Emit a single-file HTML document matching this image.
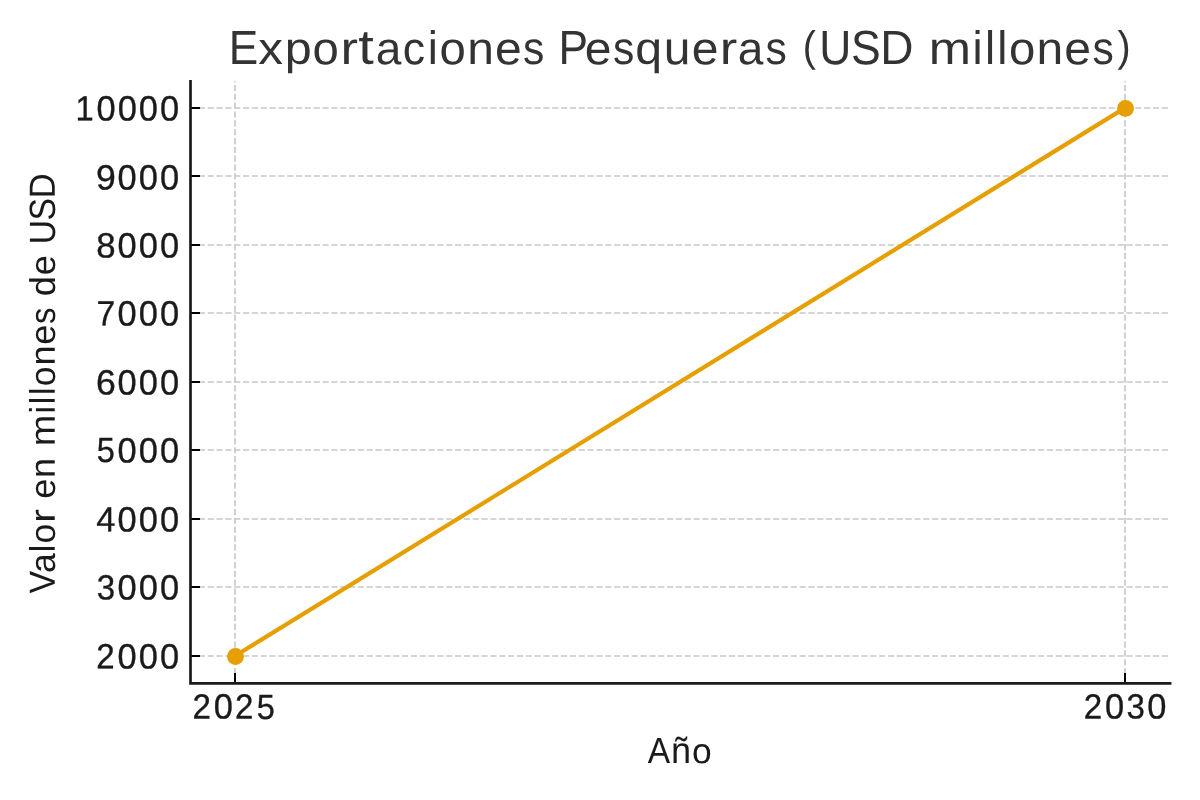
<!DOCTYPE html>
<html><head><meta charset="utf-8"><title>Exportaciones Pesqueras</title><style>
html,body{margin:0;padding:0;background:#fff;width:1200px;height:800px;overflow:hidden}
svg{display:block;will-change:transform}
text{font-family:"Liberation Sans",sans-serif;text-rendering:geometricPrecision}
</style></head><body>
<svg width="1200" height="800" viewBox="0 0 1200 800">
<rect width="1200" height="800" fill="#fff"/>
<g stroke="#c8c8c8" stroke-width="1.67" stroke-dasharray="6.17 2.664"><line x1="190" y1="656" x2="1170" y2="656"/><line x1="190" y1="587" x2="1170" y2="587"/><line x1="190" y1="519" x2="1170" y2="519"/><line x1="190" y1="450" x2="1170" y2="450"/><line x1="190" y1="382" x2="1170" y2="382"/><line x1="190" y1="313" x2="1170" y2="313"/><line x1="190" y1="245" x2="1170" y2="245"/><line x1="190" y1="176" x2="1170" y2="176"/><line x1="190" y1="108" x2="1170" y2="108"/><line x1="235.0" y1="683" x2="235.0" y2="81"/><line x1="1125.0" y1="683" x2="1125.0" y2="81"/></g>
<g stroke="#000" stroke-width="2.0"><line x1="190.5" y1="656" x2="200.00" y2="656"/><line x1="190.5" y1="587" x2="200.00" y2="587"/><line x1="190.5" y1="519" x2="200.00" y2="519"/><line x1="190.5" y1="450" x2="200.00" y2="450"/><line x1="190.5" y1="382" x2="200.00" y2="382"/><line x1="190.5" y1="313" x2="200.00" y2="313"/><line x1="190.5" y1="245" x2="200.00" y2="245"/><line x1="190.5" y1="176" x2="200.00" y2="176"/><line x1="190.5" y1="108" x2="200.00" y2="108"/><line x1="235.0" y1="683.4" x2="235.0" y2="673.00"/><line x1="1125.0" y1="683.4" x2="1125.0" y2="673.00"/></g>
<line x1="235.0" y1="656.0" x2="1125.0" y2="107.9" stroke="#E69F00" stroke-width="4.17"/>
<circle cx="235.5" cy="656.5" r="8.45" fill="#E69F00"/><circle cx="1125.5" cy="108.4" r="8.45" fill="#E69F00"/>
<path d="M190.5,80.0 L190.5,683.4 L1171.4,683.4" fill="none" stroke="#1a1a1a" stroke-width="2.7"/>
<g><text transform="translate(228.63,64.05) rotate(0.03) scale(0.9293,1.0101)" font-size="47.50" fill="#333333">E</text><text transform="translate(258.23,64.05) rotate(0.03) scale(1.0388,0.9567)" font-size="47.50" fill="#333333">x</text><text transform="translate(284.75,63.79) rotate(0.03) scale(1.0188,0.9527)" font-size="47.50" fill="#333333">p</text><text transform="translate(312.53,64.22) rotate(0.03) scale(0.9955,0.9687)" font-size="47.50" fill="#333333">o</text><text transform="translate(340.38,64.05) rotate(0.03) scale(1.1063,0.9620)" font-size="47.50" fill="#333333">r</text><text transform="translate(358.37,63.67) rotate(0.03) scale(1.1764,1.0230)" font-size="47.50" fill="#333333">t</text><text transform="translate(375.72,64.22) rotate(0.03) scale(0.9687,0.9687)" font-size="47.50" fill="#333333">a</text><text transform="translate(402.82,64.22) rotate(0.03) scale(0.9396,0.9687)" font-size="47.50" fill="#333333">c</text><text transform="translate(427.86,64.05) rotate(0.03) scale(0.9572,0.9887)" font-size="47.50" fill="#333333">i</text><text transform="translate(439.54,64.22) rotate(0.03) scale(0.9955,0.9687)" font-size="47.50" fill="#333333">o</text><text transform="translate(467.14,64.05) rotate(0.03) scale(1.0096,0.9620)" font-size="47.50" fill="#333333">n</text><text transform="translate(494.89,64.22) rotate(0.03) scale(1.0115,0.9687)" font-size="47.50" fill="#333333">e</text><text transform="translate(523.07,64.22) rotate(0.03) scale(0.8976,0.9713)" font-size="47.50" fill="#333333">s</text><text transform="translate(558.62,64.05) rotate(0.03) scale(0.9293,1.0101)" font-size="47.50" fill="#333333">P</text><text transform="translate(584.81,64.22) rotate(0.03) scale(1.0115,0.9687)" font-size="47.50" fill="#333333">e</text><text transform="translate(612.98,64.22) rotate(0.03) scale(0.8976,0.9713)" font-size="47.50" fill="#333333">s</text><text transform="translate(635.36,63.80) rotate(0.03) scale(1.0167,0.9521)" font-size="47.50" fill="#333333">q</text><text transform="translate(663.83,64.21) rotate(0.03) scale(1.0096,0.9863)" font-size="47.50" fill="#333333">u</text><text transform="translate(691.77,64.22) rotate(0.03) scale(1.0115,0.9687)" font-size="47.50" fill="#333333">e</text><text transform="translate(719.83,64.05) rotate(0.03) scale(1.1063,0.9620)" font-size="47.50" fill="#333333">r</text><text transform="translate(737.73,64.22) rotate(0.03) scale(0.9687,0.9687)" font-size="47.50" fill="#333333">a</text><text transform="translate(765.49,64.22) rotate(0.03) scale(0.8976,0.9713)" font-size="47.50" fill="#333333">s</text><text transform="translate(802.72,61.09) rotate(0.03) scale(0.8293,0.9015)" font-size="47.50" fill="#333333">(</text><text transform="translate(819.19,64.22) rotate(0.03) scale(0.9341,1.0153)" font-size="47.50" fill="#333333">U</text><text transform="translate(851.00,64.22) rotate(0.03) scale(0.9369,1.0184)" font-size="47.50" fill="#333333">S</text><text transform="translate(880.31,64.05) rotate(0.03) scale(0.9688,1.0101)" font-size="47.50" fill="#333333">D</text><text transform="translate(928.79,64.05) rotate(0.03) scale(1.0669,0.9620)" font-size="47.50" fill="#333333">m</text><text transform="translate(972.59,64.05) rotate(0.03) scale(0.9572,0.9887)" font-size="47.50" fill="#333333">i</text><text transform="translate(984.93,64.05) rotate(0.03) scale(0.9572,0.9887)" font-size="47.50" fill="#333333">l</text><text transform="translate(997.29,64.05) rotate(0.03) scale(0.9572,0.9887)" font-size="47.50" fill="#333333">l</text><text transform="translate(1008.99,64.22) rotate(0.03) scale(0.9955,0.9687)" font-size="47.50" fill="#333333">o</text><text transform="translate(1036.59,64.05) rotate(0.03) scale(1.0096,0.9620)" font-size="47.50" fill="#333333">n</text><text transform="translate(1064.33,64.22) rotate(0.03) scale(1.0115,0.9687)" font-size="47.50" fill="#333333">e</text><text transform="translate(1092.51,64.22) rotate(0.03) scale(0.8976,0.9713)" font-size="47.50" fill="#333333">s</text><text transform="translate(1117.55,61.09) rotate(0.03) scale(0.8293,0.9015)" font-size="47.50" fill="#333333">)</text></g>
<text transform="translate(96.25,668.28) rotate(0.03) scale(0.9456,0.9979)" font-size="35.00" fill="#1a1a1a" stroke="#1a1a1a" stroke-width="0.35" vector-effect="non-scaling-stroke">2</text><text transform="translate(117.53,668.40) rotate(0.03) scale(0.9829,1.0032)" font-size="35.00" fill="#1a1a1a" stroke="#1a1a1a" stroke-width="0.35" vector-effect="non-scaling-stroke">0</text><text transform="translate(138.74,668.40) rotate(0.03) scale(0.9829,1.0032)" font-size="35.00" fill="#1a1a1a" stroke="#1a1a1a" stroke-width="0.35" vector-effect="non-scaling-stroke">0</text><text transform="translate(159.94,668.40) rotate(0.03) scale(0.9829,1.0032)" font-size="35.00" fill="#1a1a1a" stroke="#1a1a1a" stroke-width="0.35" vector-effect="non-scaling-stroke">0</text>
<text transform="translate(96.76,599.40) rotate(0.03) scale(0.9430,1.0032)" font-size="35.00" fill="#1a1a1a" stroke="#1a1a1a" stroke-width="0.35" vector-effect="non-scaling-stroke">3</text><text transform="translate(117.53,599.40) rotate(0.03) scale(0.9829,1.0032)" font-size="35.00" fill="#1a1a1a" stroke="#1a1a1a" stroke-width="0.35" vector-effect="non-scaling-stroke">0</text><text transform="translate(138.74,599.40) rotate(0.03) scale(0.9829,1.0032)" font-size="35.00" fill="#1a1a1a" stroke="#1a1a1a" stroke-width="0.35" vector-effect="non-scaling-stroke">0</text><text transform="translate(159.94,599.40) rotate(0.03) scale(0.9829,1.0032)" font-size="35.00" fill="#1a1a1a" stroke="#1a1a1a" stroke-width="0.35" vector-effect="non-scaling-stroke">0</text>
<text transform="translate(96.31,531.28) rotate(0.03) scale(0.9841,0.9945)" font-size="35.00" fill="#1a1a1a" stroke="#1a1a1a" stroke-width="0.35" vector-effect="non-scaling-stroke">4</text><text transform="translate(117.53,531.40) rotate(0.03) scale(0.9829,1.0032)" font-size="35.00" fill="#1a1a1a" stroke="#1a1a1a" stroke-width="0.35" vector-effect="non-scaling-stroke">0</text><text transform="translate(138.74,531.40) rotate(0.03) scale(0.9829,1.0032)" font-size="35.00" fill="#1a1a1a" stroke="#1a1a1a" stroke-width="0.35" vector-effect="non-scaling-stroke">0</text><text transform="translate(159.94,531.40) rotate(0.03) scale(0.9829,1.0032)" font-size="35.00" fill="#1a1a1a" stroke="#1a1a1a" stroke-width="0.35" vector-effect="non-scaling-stroke">0</text>
<text transform="translate(96.75,462.41) rotate(0.03) scale(0.9263,0.9999)" font-size="35.00" fill="#1a1a1a" stroke="#1a1a1a" stroke-width="0.35" vector-effect="non-scaling-stroke">5</text><text transform="translate(117.53,462.40) rotate(0.03) scale(0.9829,1.0032)" font-size="35.00" fill="#1a1a1a" stroke="#1a1a1a" stroke-width="0.35" vector-effect="non-scaling-stroke">0</text><text transform="translate(138.74,462.40) rotate(0.03) scale(0.9829,1.0032)" font-size="35.00" fill="#1a1a1a" stroke="#1a1a1a" stroke-width="0.35" vector-effect="non-scaling-stroke">0</text><text transform="translate(159.94,462.40) rotate(0.03) scale(0.9829,1.0032)" font-size="35.00" fill="#1a1a1a" stroke="#1a1a1a" stroke-width="0.35" vector-effect="non-scaling-stroke">0</text>
<text transform="translate(95.99,394.40) rotate(0.03) scale(1.0173,1.0032)" font-size="35.00" fill="#1a1a1a" stroke="#1a1a1a" stroke-width="0.35" vector-effect="non-scaling-stroke">6</text><text transform="translate(117.53,394.40) rotate(0.03) scale(0.9829,1.0032)" font-size="35.00" fill="#1a1a1a" stroke="#1a1a1a" stroke-width="0.35" vector-effect="non-scaling-stroke">0</text><text transform="translate(138.74,394.40) rotate(0.03) scale(0.9829,1.0032)" font-size="35.00" fill="#1a1a1a" stroke="#1a1a1a" stroke-width="0.35" vector-effect="non-scaling-stroke">0</text><text transform="translate(159.94,394.40) rotate(0.03) scale(0.9829,1.0032)" font-size="35.00" fill="#1a1a1a" stroke="#1a1a1a" stroke-width="0.35" vector-effect="non-scaling-stroke">0</text>
<text transform="translate(96.49,325.27) rotate(0.03) scale(0.9600,0.9945)" font-size="35.00" fill="#1a1a1a" stroke="#1a1a1a" stroke-width="0.35" vector-effect="non-scaling-stroke">7</text><text transform="translate(117.53,325.40) rotate(0.03) scale(0.9829,1.0032)" font-size="35.00" fill="#1a1a1a" stroke="#1a1a1a" stroke-width="0.35" vector-effect="non-scaling-stroke">0</text><text transform="translate(138.74,325.40) rotate(0.03) scale(0.9829,1.0032)" font-size="35.00" fill="#1a1a1a" stroke="#1a1a1a" stroke-width="0.35" vector-effect="non-scaling-stroke">0</text><text transform="translate(159.94,325.40) rotate(0.03) scale(0.9829,1.0032)" font-size="35.00" fill="#1a1a1a" stroke="#1a1a1a" stroke-width="0.35" vector-effect="non-scaling-stroke">0</text>
<text transform="translate(96.23,257.40) rotate(0.03) scale(0.9934,1.0032)" font-size="35.00" fill="#1a1a1a" stroke="#1a1a1a" stroke-width="0.35" vector-effect="non-scaling-stroke">8</text><text transform="translate(117.53,257.40) rotate(0.03) scale(0.9829,1.0032)" font-size="35.00" fill="#1a1a1a" stroke="#1a1a1a" stroke-width="0.35" vector-effect="non-scaling-stroke">0</text><text transform="translate(138.74,257.40) rotate(0.03) scale(0.9829,1.0032)" font-size="35.00" fill="#1a1a1a" stroke="#1a1a1a" stroke-width="0.35" vector-effect="non-scaling-stroke">0</text><text transform="translate(159.94,257.40) rotate(0.03) scale(0.9829,1.0032)" font-size="35.00" fill="#1a1a1a" stroke="#1a1a1a" stroke-width="0.35" vector-effect="non-scaling-stroke">0</text>
<text transform="translate(95.91,189.40) rotate(0.03) scale(1.0152,1.0032)" font-size="35.00" fill="#1a1a1a" stroke="#1a1a1a" stroke-width="0.35" vector-effect="non-scaling-stroke">9</text><text transform="translate(117.53,189.40) rotate(0.03) scale(0.9829,1.0032)" font-size="35.00" fill="#1a1a1a" stroke="#1a1a1a" stroke-width="0.35" vector-effect="non-scaling-stroke">0</text><text transform="translate(138.74,189.40) rotate(0.03) scale(0.9829,1.0032)" font-size="35.00" fill="#1a1a1a" stroke="#1a1a1a" stroke-width="0.35" vector-effect="non-scaling-stroke">0</text><text transform="translate(159.94,189.40) rotate(0.03) scale(0.9829,1.0032)" font-size="35.00" fill="#1a1a1a" stroke="#1a1a1a" stroke-width="0.35" vector-effect="non-scaling-stroke">0</text>
<text transform="translate(75.54,120.28) rotate(0.03) scale(0.9356,0.9945)" font-size="35.00" fill="#1a1a1a" stroke="#1a1a1a" stroke-width="0.35" vector-effect="non-scaling-stroke">1</text><text transform="translate(96.43,120.40) rotate(0.03) scale(0.9829,1.0032)" font-size="35.00" fill="#1a1a1a" stroke="#1a1a1a" stroke-width="0.35" vector-effect="non-scaling-stroke">0</text><text transform="translate(117.64,120.40) rotate(0.03) scale(0.9829,1.0032)" font-size="35.00" fill="#1a1a1a" stroke="#1a1a1a" stroke-width="0.35" vector-effect="non-scaling-stroke">0</text><text transform="translate(138.84,120.40) rotate(0.03) scale(0.9829,1.0032)" font-size="35.00" fill="#1a1a1a" stroke="#1a1a1a" stroke-width="0.35" vector-effect="non-scaling-stroke">0</text><text transform="translate(160.05,120.40) rotate(0.03) scale(0.9829,1.0032)" font-size="35.00" fill="#1a1a1a" stroke="#1a1a1a" stroke-width="0.35" vector-effect="non-scaling-stroke">0</text>
<text transform="translate(192.55,718.43) rotate(0.03) scale(0.9456,0.9979)" font-size="35.00" fill="#1a1a1a" stroke="#1a1a1a" stroke-width="0.35" vector-effect="non-scaling-stroke">2</text><text transform="translate(213.83,718.55) rotate(0.03) scale(0.9829,1.0032)" font-size="35.00" fill="#1a1a1a" stroke="#1a1a1a" stroke-width="0.35" vector-effect="non-scaling-stroke">0</text><text transform="translate(234.96,718.43) rotate(0.03) scale(0.9456,0.9979)" font-size="35.00" fill="#1a1a1a" stroke="#1a1a1a" stroke-width="0.35" vector-effect="non-scaling-stroke">2</text><text transform="translate(256.66,718.56) rotate(0.03) scale(0.9263,0.9999)" font-size="35.00" fill="#1a1a1a" stroke="#1a1a1a" stroke-width="0.35" vector-effect="non-scaling-stroke">5</text>
<text transform="translate(1083.65,718.43) rotate(0.03) scale(0.9456,0.9979)" font-size="35.00" fill="#1a1a1a" stroke="#1a1a1a" stroke-width="0.35" vector-effect="non-scaling-stroke">2</text><text transform="translate(1104.93,718.55) rotate(0.03) scale(0.9829,1.0032)" font-size="35.00" fill="#1a1a1a" stroke="#1a1a1a" stroke-width="0.35" vector-effect="non-scaling-stroke">0</text><text transform="translate(1126.57,718.55) rotate(0.03) scale(0.9430,1.0032)" font-size="35.00" fill="#1a1a1a" stroke="#1a1a1a" stroke-width="0.35" vector-effect="non-scaling-stroke">3</text><text transform="translate(1147.34,718.55) rotate(0.03) scale(0.9829,1.0032)" font-size="35.00" fill="#1a1a1a" stroke="#1a1a1a" stroke-width="0.35" vector-effect="non-scaling-stroke">0</text>
<text transform="translate(647.79,763.00) rotate(0.03) scale(0.9458,1.0227)" font-size="35.50" fill="#1a1a1a">A</text><text transform="translate(670.97,763.00) rotate(0.03) scale(1.0123,1.0372)" font-size="35.50" fill="#1a1a1a">ñ</text><text transform="translate(691.88,763.13) rotate(0.03) scale(0.9981,1.0037)" font-size="35.50" fill="#1a1a1a">o</text>
<g transform="translate(54.8,593.66) rotate(-90)"><text transform="translate(0.11,0.00) rotate(0.03) scale(0.9528,1.0227)" font-size="35.50" fill="#1a1a1a">V</text><text transform="translate(20.70,0.13) rotate(0.03) scale(1.0037,1.0037)" font-size="35.50" fill="#1a1a1a">a</text><text transform="translate(41.48,0.00) rotate(0.03) scale(0.9597,1.0041)" font-size="35.50" fill="#1a1a1a">l</text><text transform="translate(50.25,0.13) rotate(0.03) scale(0.9981,1.0037)" font-size="35.50" fill="#1a1a1a">o</text><text transform="translate(70.87,0.00) rotate(0.03) scale(1.1463,0.9968)" font-size="35.50" fill="#1a1a1a">r</text><text transform="translate(94.90,0.13) rotate(0.03) scale(1.0141,1.0037)" font-size="35.50" fill="#1a1a1a">e</text><text transform="translate(115.73,0.00) rotate(0.03) scale(1.0123,0.9968)" font-size="35.50" fill="#1a1a1a">n</text><text transform="translate(147.32,0.00) rotate(0.03) scale(1.0697,0.9968)" font-size="35.50" fill="#1a1a1a">m</text><text transform="translate(180.14,0.00) rotate(0.03) scale(0.9597,1.0041)" font-size="35.50" fill="#1a1a1a">i</text><text transform="translate(189.38,0.00) rotate(0.03) scale(0.9597,1.0041)" font-size="35.50" fill="#1a1a1a">l</text><text transform="translate(198.64,0.00) rotate(0.03) scale(0.9597,1.0041)" font-size="35.50" fill="#1a1a1a">l</text><text transform="translate(207.41,0.13) rotate(0.03) scale(0.9981,1.0037)" font-size="35.50" fill="#1a1a1a">o</text><text transform="translate(228.09,0.00) rotate(0.03) scale(1.0123,0.9968)" font-size="35.50" fill="#1a1a1a">n</text><text transform="translate(248.89,0.13) rotate(0.03) scale(1.0141,1.0037)" font-size="35.50" fill="#1a1a1a">e</text><text transform="translate(269.77,0.13) rotate(0.03) scale(0.9259,1.0064)" font-size="35.50" fill="#1a1a1a">s</text><text transform="translate(297.36,0.13) rotate(0.03) scale(1.0204,1.0092)" font-size="35.50" fill="#1a1a1a">d</text><text transform="translate(318.51,0.13) rotate(0.03) scale(1.0141,1.0037)" font-size="35.50" fill="#1a1a1a">e</text><text transform="translate(349.37,0.13) rotate(0.03) scale(0.9457,1.0280)" font-size="35.50" fill="#1a1a1a">U</text><text transform="translate(373.22,0.13) rotate(0.03) scale(0.9486,1.0311)" font-size="35.50" fill="#1a1a1a">S</text><text transform="translate(395.29,0.00) rotate(0.03) scale(0.9714,1.0227)" font-size="35.50" fill="#1a1a1a">D</text></g>
</svg>
</body></html>
